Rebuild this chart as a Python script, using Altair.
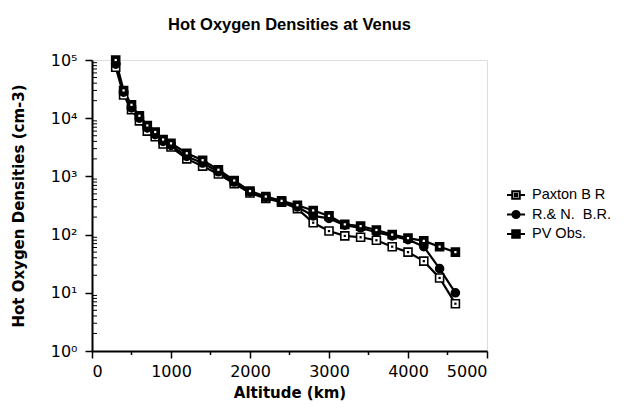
import altair as alt
import pandas as pd

# ---- data ----
altitude = [300, 400, 500, 600, 700, 800, 900, 1000, 1200, 1400, 1600, 1800, 2000,
            2200, 2400, 2600, 2800, 3000, 3200, 3400, 3600, 3800, 4000, 4200, 4400, 4600]
paxton = [75000, 25000, 14000, 9000, 6000, 4800, 3600, 3200, 2000, 1500, 1100, 750, 520,
          420, 360, 280, 160, 115, 95, 90, 80, 62, 50, 35, 18, 6.5]
rn = [85000, 28000, 15000, 10000, 6800, 5200, 4000, 3400, 2200, 1700, 1200, 800, 540,
      440, 370, 300, 210, 190, 145, 130, 110, 95, 82, 62, 26, 10]
pv = [100000, 30000, 17000, 11000, 7500, 5800, 4300, 3700, 2500, 1900, 1300, 850, 560,
      450, 380, 320, 260, 210, 150, 140, 120, 100, 87, 78, 62, 50]

series_names = ["Paxton B R", "R.& N.\u00a0 B.R.", "PV Obs."]
x_ticks = [0, 1000, 2000, 3000, 4000, 5000]
x_minor = [500, 1500, 2500, 3500, 4500]
y_ticks = [1, 10, 100, 1000, 10000, 100000]
y_tick_labels = ["10\u2070", "10\u00b9", "10\u00b2", "10\u00b3", "10\u2074", "10\u2075"]
y_minor = [m * 10 ** k for k in range(5) for m in range(2, 10)]

rows = []
for name, vals in zip(series_names, [paxton, rn, pv]):
    for a, v in zip(altitude, vals):
        rows.append({"altitude": a, "density": v, "series": name})
df = pd.DataFrame(rows)

W, H = 395, 291
LBL_FONT = "DejaVu Sans"

label_expr = "[" + ",".join("'" + s + "'" for s in y_tick_labels) + "][round(log(datum.value)/LN10)]"

x_enc = alt.X("altitude:Q", scale=alt.Scale(domain=[0, 5000], nice=False),
              axis=alt.Axis(values=x_ticks, format="d", title="Altitude (km)", grid=False,
                            labelFont=LBL_FONT, labelFontSize=16, labelColor="black",
                            labelPadding=5, tickSize=7, tickWidth=1.5, tickColor="black",
                            domainColor="black", domainWidth=2,
                            titleFont=LBL_FONT, titleFontSize=15, titleFontWeight="bold",
                            titleColor="black", titlePadding=6))
y_enc = alt.Y("density:Q", scale=alt.Scale(type="log", domain=[1, 100000], nice=False),
              axis=alt.Axis(values=y_ticks, labelExpr=label_expr,
                            title="Hot Oxygen Densities (cm-3)", grid=False,
                            labelFont=LBL_FONT, labelFontSize=16, labelColor="black",
                            labelPadding=8, tickSize=7, tickWidth=1.5, tickColor="black",
                            domainColor="black", domainWidth=2,
                            titleFont=LBL_FONT, titleFontSize=15, titleFontWeight="bold",
                            titleColor="black", titlePadding=24))

base = alt.Chart(df)

lines = base.mark_line(color="black", strokeWidth=2.2).encode(
    x=x_enc, y=y_enc, detail="series:N", order="altitude:Q")

markers = base.mark_point(filled=True, stroke="black", strokeWidth=1.6, size=64, opacity=1).encode(
    x="altitude:Q", y="density:Q",
    shape=alt.Shape("series:N", scale=alt.Scale(domain=series_names,
                                                range=["square", "circle", "square"]), legend=None),
    fill=alt.Fill("series:N", scale=alt.Scale(domain=series_names,
                                              range=["white", "black", "black"]), legend=None))

dots = base.transform_filter(alt.datum.series != series_names[1]).mark_square(
    size=5, opacity=1, strokeWidth=0).encode(
    x="altitude:Q", y="density:Q",
    color=alt.Color("series:N", scale=alt.Scale(domain=[series_names[0], series_names[2]],
                                                range=["black", "white"]), legend=None))

sq_path = ("M-1,0H-0.42M0.42,0H1M-0.42,-0.42H0.42V0.42H-0.42Z"
           "M-0.13,-0.13V0.13H0.13V-0.13Z")
ci_path = ("M-1,0H-0.4M0.4,0H1M-0.4,0A0.4,0.4 0 1,0 0.4,0A0.4,0.4 0 1,0 -0.4,0Z")

legend_cfg = alt.Legend(title=None, orient="none", legendX=414, legendY=125,
                        labelFont="Liberation Sans", labelFontSize=14.5, labelColor="black",
                        symbolSize=324, symbolStrokeWidth=2, symbolStrokeColor="black",
                        labelOffset=6, rowPadding=1.5, padding=0)

legend_layer = base.transform_filter("false").mark_point(
    filled=True, size=324, opacity=1).encode(
    x="altitude:Q", y="density:Q",
    shape=alt.Shape("series:N", scale=alt.Scale(domain=series_names,
                                                range=[sq_path, ci_path, sq_path]),
                    legend=legend_cfg),
    fill=alt.Fill("series:N", scale=alt.Scale(domain=series_names,
                                              range=["white", "black", "black"]),
                  legend=legend_cfg),
    stroke=alt.Stroke("series:N", scale=alt.Scale(domain=series_names,
                                                  range=["black", "black", "black"]),
                      legend=legend_cfg),
    strokeWidth=alt.value(2))

ymin_df = pd.DataFrame({"density": y_minor})
y_minor_ticks = alt.Chart(ymin_df).mark_rule(color="black", strokeWidth=1).encode(
    y="density:Q", x=alt.value(0), x2=alt.value(5))

xmin_df = pd.DataFrame({"altitude": x_minor})
x_minor_ticks = alt.Chart(xmin_df).mark_rule(color="black", strokeWidth=1.5).encode(
    x="altitude:Q", y=alt.value(H), y2=alt.value(H + 4))

chart = alt.layer(lines, y_minor_ticks, x_minor_ticks, markers, dots, legend_layer).resolve_scale(
    shape="independent", fill="independent", color="independent", stroke="independent"
).properties(
    width=W, height=H,
    title=alt.TitleParams("Hot Oxygen Densities at Venus", font="Liberation Sans",
                          fontSize=16.5, fontWeight="bold", color="black",
                          anchor="middle", offset=19),
    autosize=alt.AutoSizeParams(type="none"),
    padding={"left": 84, "top": 52, "right": 146, "bottom": 50},
).configure_view(stroke="black", strokeWidth=2).configure(background="white")

chart.save("out.html", embed_options={"renderer": "svg", "actions": False})
